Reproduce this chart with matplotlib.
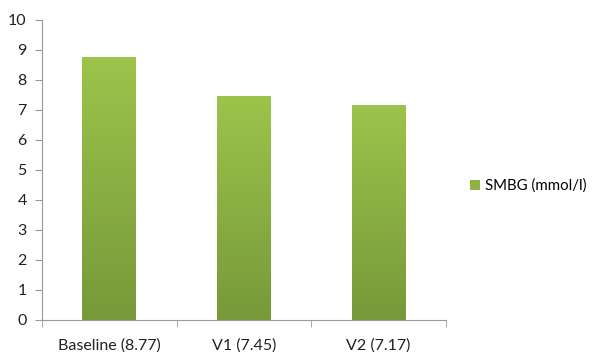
import matplotlib.pyplot as plt
import numpy as np
from matplotlib.colors import LinearSegmentedColormap

# SMBG means per visit
categories = ['Baseline (8.77)', 'V1 (7.45)', 'V2 (7.17)']
smbg = [8.77, 7.45, 7.17]
series_name = 'SMBG (mmol/l)'

plt.rcParams['font.family'] = ['Lato', 'DejaVu Sans']

fig = plt.figure(figsize=(5.98, 3.55), dpi=100)
ax = fig.add_axes([0.0702, 0.0986, 0.6756, 0.8451])

x = np.arange(len(categories))
bars = ax.bar(x, smbg, width=0.4, color='#8cb344', label=series_name, zorder=2)

# vertical gradient inside each bar, light at the top, darker at the base
cmap = LinearSegmentedColormap.from_list('grn', ['#77993a', '#9cc44b'])
grad = np.linspace(0, 1, 256).reshape(-1, 1)
for b in bars:
    x0, w, h = b.get_x(), b.get_width(), b.get_height()
    im = ax.imshow(grad, cmap=cmap, aspect='auto', origin='lower',
                   extent=[x0, x0 + w, 0, h], zorder=3)
    im.set_clip_path(b)

ax.set_xlim(-0.5, len(categories) - 0.5)
ax.set_ylim(0, 10)
ax.set_yticks(range(0, 11))
ax.set_xticks(x)
ax.set_xticklabels(categories)
ax.set_xticks(np.arange(-0.5, len(categories)), minor=True)
ax.tick_params(axis='x', which='major', length=0, pad=13, labelsize=11.5, colors='#222222')
ax.tick_params(axis='x', which='minor', length=5, color='#999999', direction='out')
ax.tick_params(axis='y', length=5, labelsize=11.5, pad=6, colors='#999999', labelcolor='#222222')

for s in ['top', 'right']:
    ax.spines[s].set_visible(False)
for s in ['left', 'bottom']:
    ax.spines[s].set_color('#999999')
    ax.spines[s].set_linewidth(0.8)

ax.legend(handles=[bars], loc='center left', bbox_to_anchor=(1.025, 0.447), frameon=False,
          fontsize=10.8, handlelength=0.7, handleheight=0.7, handletextpad=0.3)

fig.savefig('out.png', dpi=100)
